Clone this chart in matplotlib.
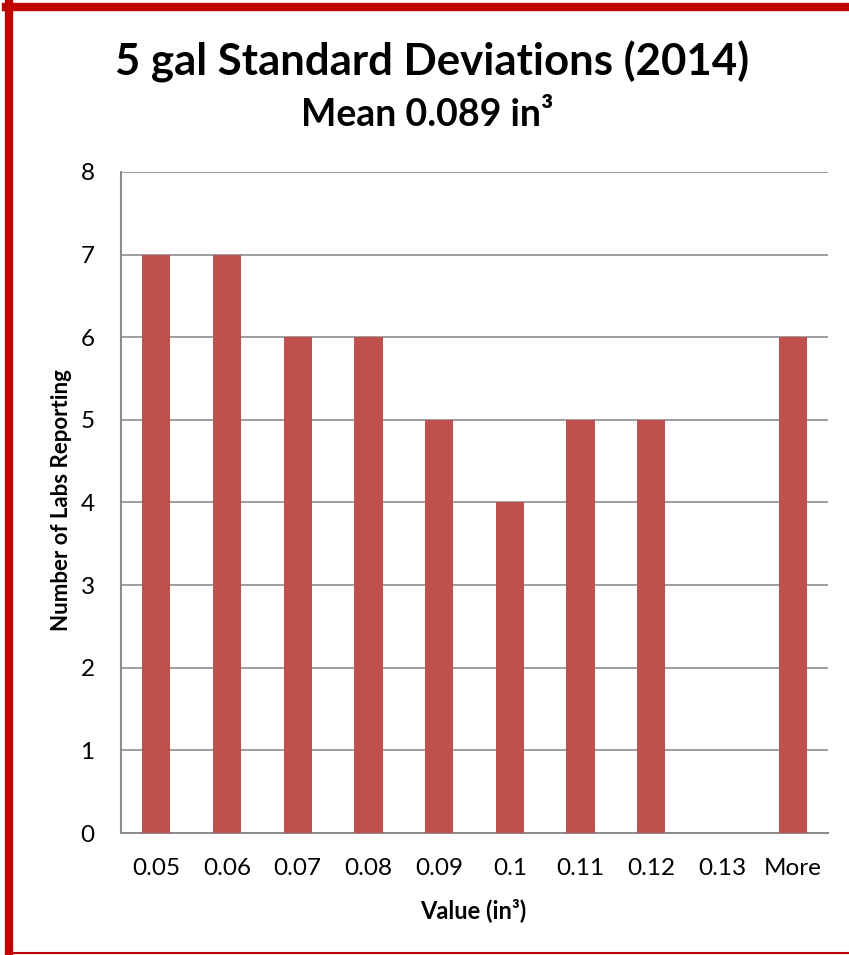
import matplotlib.pyplot as plt
from matplotlib.lines import Line2D
import numpy as np

plt.rcParams['font.family'] = ['Lato', 'DejaVu Sans']

bins = ["0.05", "0.06", "0.07", "0.08", "0.09", "0.1", "0.11", "0.12", "0.13", "More"]
counts = [7, 7, 6, 6, 5, 4, 5, 5, 0, 6]

W, H = 849, 955
fig = plt.figure(figsize=(W / 100, H / 100), dpi=100)

# plot area in pixel coords
left, right, top, bottom = 121, 828, 172, 833
ax = fig.add_axes([left / W, 1 - bottom / H, (right - left) / W, (bottom - top) / H])

x = np.arange(len(bins))
ax.bar(x, counts, width=0.4, color="#C0504D", zorder=3)
ax.set_xlim(-0.5, len(bins) - 0.5)
ax.set_ylim(0, 8)
ax.set_yticks(range(0, 9))
ax.set_xticks(x)
ax.set_xticklabels(bins)
ax.grid(axis="y", color="#8C8C8C", linewidth=1.2, zorder=0)
for side in ["top", "right"]:
    ax.spines[side].set_visible(False)
for side in ["left", "bottom"]:
    ax.spines[side].set_color("#8C8C8C")
    ax.spines[side].set_linewidth(1.5)
ax.tick_params(length=0, labelsize=17.5, pad=18)
ax.tick_params(axis="y", pad=19)
ax.set_xlabel("Value (in³)", fontsize=17, fontweight="bold")
ax.set_ylabel("Number of Labs Reporting", fontsize=16, fontweight="bold")
ax.xaxis.set_label_coords((473 - left) / (right - left), (bottom - 898) / (bottom - top))
ax.yaxis.set_label_coords((72 - left) / (right - left), (bottom - 500) / (bottom - top))

fig.text(432 / W, 1 - 62 / H, "5 gal Standard Deviations (2014)", ha="center", va="center",
         fontsize=31.5, fontweight="bold")
fig.text(427 / W, 1 - 115 / H, "Mean 0.089 in³", ha="center", va="center",
         fontsize=27, fontweight="bold")

# red frame around the chart
red = "#C00000"
fig.add_artist(Line2D([9 / W, 9 / W], [0, 1 - 3 / H], transform=fig.transFigure, color=red, linewidth=6))
fig.add_artist(Line2D([6 / W, 1], [1 - 7 / H, 1 - 7 / H], transform=fig.transFigure, color=red, linewidth=6))
fig.add_artist(Line2D([6 / W, 1], [1 - 953 / H, 1 - 953 / H], transform=fig.transFigure, color=red, linewidth=1.5))

fig.savefig("out.png", dpi=100)
